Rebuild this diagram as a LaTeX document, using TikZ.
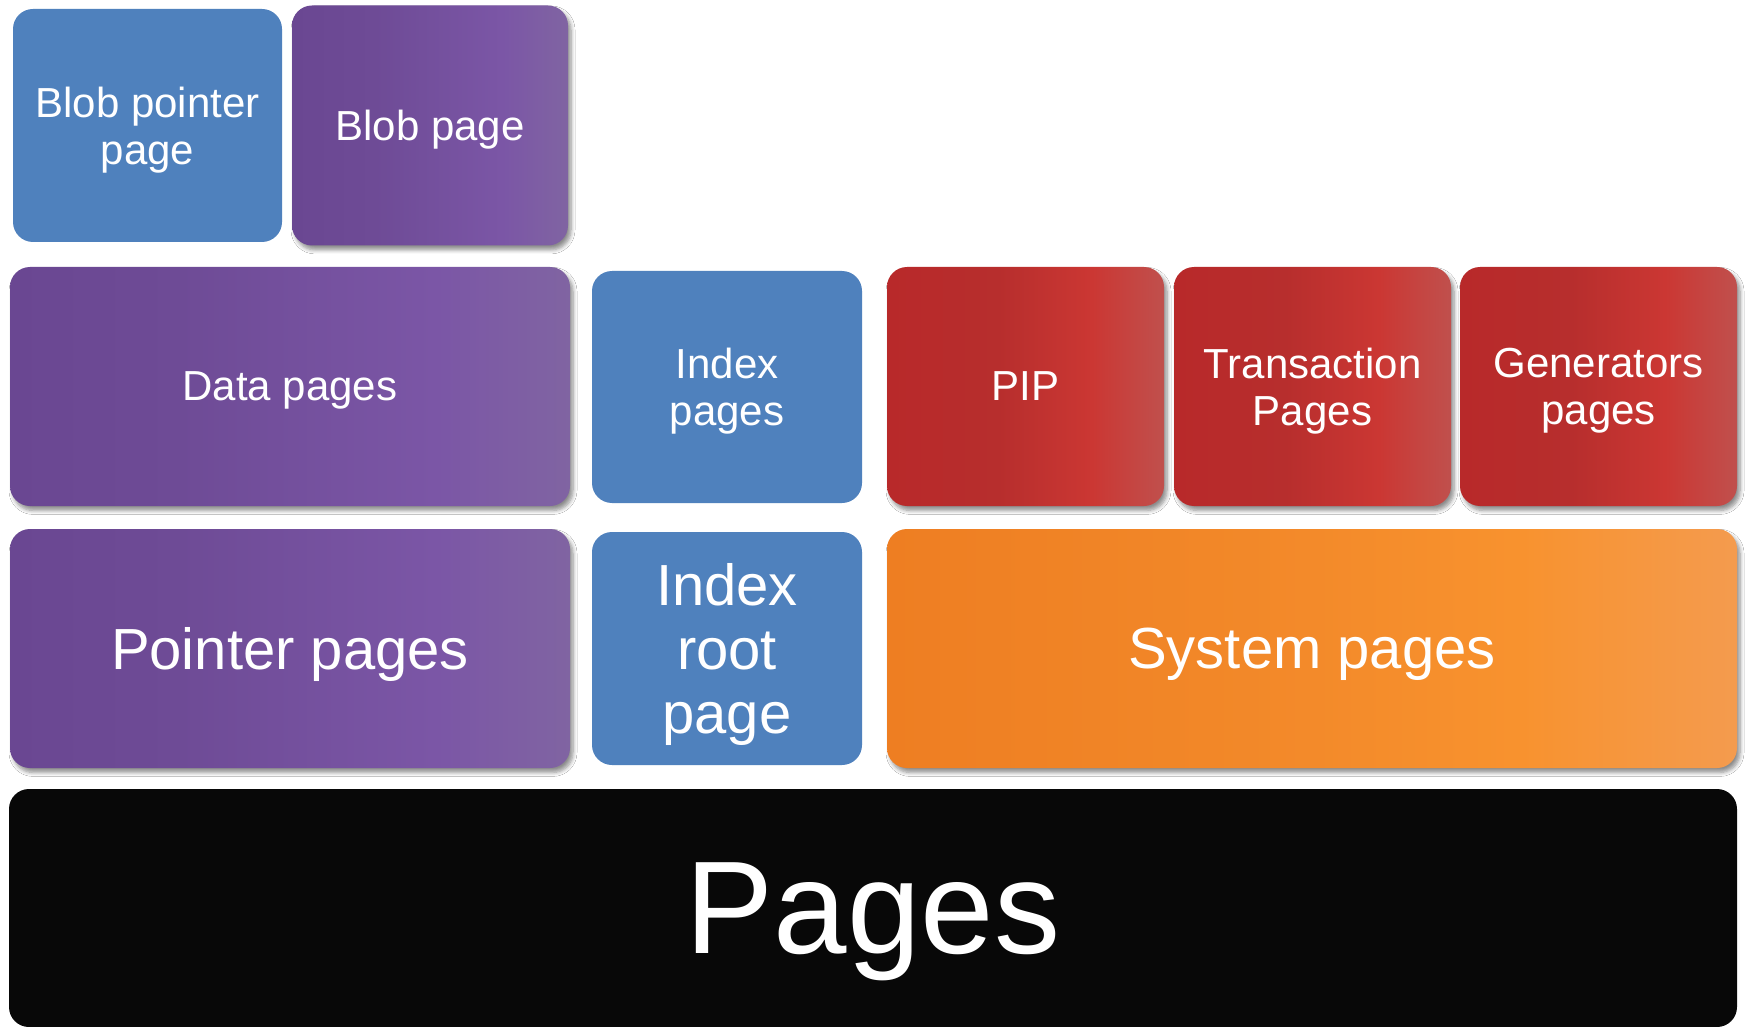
\documentclass[tikz,border=0pt]{standalone}
\usepackage{fontspec}
\setmainfont{Liberation Sans}
\usetikzlibrary{shadows,shadows.blur}
\definecolor{blueA}{HTML}{4F81BD}
\definecolor{pA}{HTML}{6A4792}
\definecolor{pB}{HTML}{6E4B96}
\definecolor{pC}{HTML}{7B56A6}
\definecolor{pD}{HTML}{8064A2}
\definecolor{rA}{HTML}{B8292A}
\definecolor{rB}{HTML}{B72E2D}
\definecolor{rC}{HTML}{CB3733}
\definecolor{rD}{HTML}{C0504D}
\definecolor{oA}{HTML}{EE7E22}
\definecolor{oB}{HTML}{F38A2A}
\definecolor{oC}{HTML}{F8922E}
\definecolor{oD}{HTML}{F49B4E}
\definecolor{blackA}{HTML}{080808}
\pgfdeclarehorizontalshading{purpleshade}{100bp}{color(0bp)=(pA); color(25bp)=(pA); color(40bp)=(pB); color(63bp)=(pC); color(75bp)=(pD); color(100bp)=(pD)}
\pgfdeclarehorizontalshading{redshade}{100bp}{color(0bp)=(rA); color(25bp)=(rA); color(45bp)=(rB); color(62bp)=(rC); color(75bp)=(rD); color(100bp)=(rD)}
\pgfdeclarehorizontalshading{orangeshade}{100bp}{color(0bp)=(oA); color(25bp)=(oA); color(50bp)=(oB); color(62bp)=(oC); color(75bp)=(oD); color(100bp)=(oD)}
\tikzset{
  pagebox/.style={rectangle, rounded corners=10pt, inner sep=0pt, text=white, align=center, text depth=0pt},
  smalltext/.style={font=\fontsize{21}{23.5}\selectfont},
  bigtext/.style={font=\fontsize{29}{31.8}\selectfont},
  shadowed/.style={blur shadow={shadow xshift=1.5pt, shadow yshift=-2.2pt, shadow blur steps=6, shadow blur radius=2pt, shadow opacity=45}},
  bluebox/.style={pagebox, fill=blueA},
  purplebox/.style={pagebox, shading=purpleshade, shadowed},
  redbox/.style={pagebox, shading=redshade, shadowed},
  orangebox/.style={pagebox, shading=orangeshade, shadowed},
  blackbox/.style={pagebox, fill=blackA},
}
\begin{document}
\begin{tikzpicture}[x=0.5pt, y=-0.5pt]
\useasboundingbox[fill=white] (0,0) rectangle (1745,1027);
% top row
\node[bluebox, smalltext, minimum width=134.5pt, minimum height=116.5pt] (bptr) at (147.5,125.5) {Blob pointer\\page};
\node[purplebox, smalltext, minimum width=138pt, minimum height=120pt] (blob) at (430,125.5) {Blob page};
% middle row
\node[purplebox, smalltext, minimum width=280pt, minimum height=119.5pt] (data) at (290,386.5) {Data pages};
\node[bluebox, smalltext, minimum width=135pt, minimum height=116pt] (idx) at (727,387) {Index\\pages};
\node[redbox, smalltext, minimum width=138.5pt, minimum height=119.5pt] (pip) at (1025.5,386.5) {PIP};
\node[redbox, smalltext, minimum width=138.5pt, minimum height=119.5pt] (trans) at (1312.5,386.5) {Transaction\\Pages};
\node[redbox, smalltext, minimum width=138.5pt, minimum height=119.5pt] (gen) at (1598.5,386.5) {Generators\\pages};
% lower row
\node[purplebox, bigtext, minimum width=280pt, minimum height=119.5pt] (ptr) at (290,648.5) {Pointer pages};
\node[bluebox, bigtext, minimum width=135pt, minimum height=116.5pt] (iroot) at (727,648.5) {Index\\root\\page};
\node[orangebox, bigtext, minimum width=425pt, minimum height=119.5pt] (sys) at (1312,648.5) {System pages};
% base
\node[blackbox, font=\fontsize{66}{70}\selectfont, minimum width=864pt, minimum height=119pt] (pages) at (873,908) {Pages};
\end{tikzpicture}
\end{document}
